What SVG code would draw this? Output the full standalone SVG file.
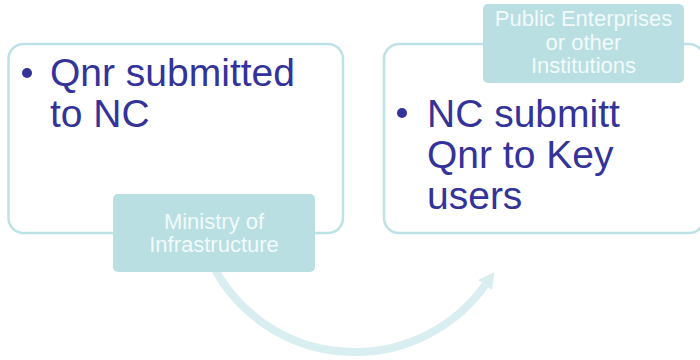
<svg xmlns="http://www.w3.org/2000/svg" width="700" height="360" viewBox="0 0 700 360">
  <style>
    .box { fill: #ffffff; stroke: #bde2e5; stroke-width: 2.5; }
    .tab { fill: #b9dfe2; stroke: none; }
    .main { font-family: "Liberation Sans", Arial, sans-serif; font-size: 39px; fill: #333399; }
    .tabtxt { font-family: "Liberation Sans", Arial, sans-serif; font-size: 22px; fill: #f2fafa; text-anchor: middle; }
    .bullet { fill: #333399; }
    .conn { fill: none; stroke: #d9eef0; stroke-width: 8; }
    .head { fill: #d9eef0; }
  </style>
  <g id="connectors">
    <path class="conn" d="M 212.6 265 A 160 160 0 0 0 485.2 285"/>
    <polygon class="head" points="494.5,272 492.1,289.9 478.3,280.1"/>
  </g>
  <g id="node-left">
    <rect class="box" x="8.5" y="44" width="334.5" height="189" rx="15" ry="15"/>
    <circle class="bullet" cx="27" cy="73" r="5"/>
    <text class="main" x="50" y="86">Qnr submitted</text>
    <text class="main" x="50" y="127">to NC</text>
  </g>
  <g id="node-right">
    <rect class="box" x="384" y="44" width="320" height="189" rx="15" ry="15"/>
    <circle class="bullet" cx="402" cy="113" r="5"/>
    <text class="main" x="427" y="127">NC submitt</text>
    <text class="main" x="427" y="168">Qnr to Key</text>
    <text class="main" x="427" y="209">users</text>
  </g>
  <g id="tab-ministry">
    <rect class="tab" x="113" y="194" width="202" height="78" rx="5" ry="5"/>
    <text class="tabtxt" x="214" y="229">Ministry of</text>
    <text class="tabtxt" x="214" y="252">Infrastructure</text>
  </g>
  <g id="tab-public">
    <rect class="tab" x="483" y="4" width="201" height="79" rx="5" ry="5"/>
    <text class="tabtxt" x="583.5" y="26">Public Enterprises</text>
    <text class="tabtxt" x="583.5" y="50">or other</text>
    <text class="tabtxt" x="583.5" y="73">Institutions</text>
  </g>
</svg>
